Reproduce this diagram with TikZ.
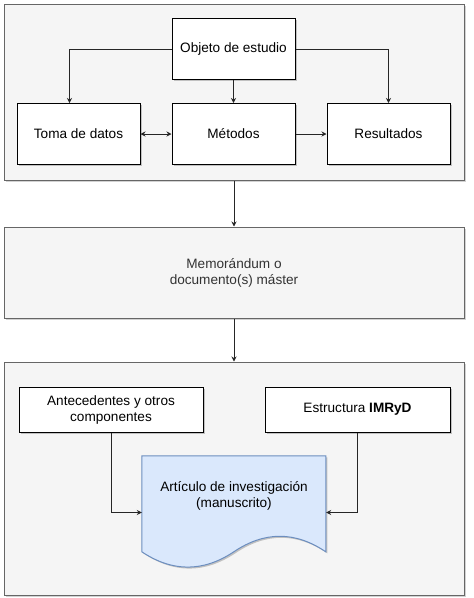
\documentclass[tikz,border=0pt]{standalone}
\usepackage{fontspec}
\setmainfont{Liberation Sans}
\usepackage{tikz}
\usetikzlibrary{positioning,shadows,arrows.meta}
\definecolor{panelgray}{HTML}{F5F5F5}
\definecolor{panelline}{HTML}{666666}
\definecolor{textgray}{HTML}{333333}
\definecolor{docblue}{HTML}{DAE8FC}
\definecolor{docline}{HTML}{6C8EBF}

\begin{document}
\begin{tikzpicture}[
x=1pt, y=1pt,
font=\fontsize{13.6}{16}\selectfont,
panelnode/.style={rectangle, draw=panelline, fill=panelgray, line width=1pt, minimum width=460pt, align=center,
  drop shadow={shadow xshift=1.5pt, shadow yshift=-1.5pt, opacity=0.25, fill=black!70}},
whitenode/.style={rectangle, draw=black, fill=white, line width=1pt, minimum width=123pt, minimum height=61pt, align=center,
  drop shadow={shadow xshift=1.5pt, shadow yshift=-1.5pt, opacity=0.3, fill=black!70}},
docnode/.style={draw=docline, fill=docblue, line width=1pt,
  drop shadow={shadow xshift=1.5pt, shadow yshift=-1.5pt, opacity=0.3, fill=black!70}},
arrow/.style={line width=1pt, draw=black!85, -{Stealth[length=5pt,width=5pt]}},
twoarrow/.style={line width=1pt, draw=black!85, {Stealth[length=5pt,width=5pt]}-{Stealth[length=5pt,width=5pt]}},
]
\useasboundingbox (0,0) rectangle (474,-598);

%Panels
\node[panelnode, minimum height=176pt] (top) at (234,-92) {};
\node[panelnode, minimum height=91pt, text=textgray] (memo) [below=46pt of top] {Memorándum o\\documento(s) máster};
\node[panelnode, minimum height=233pt] (bottom) [below=43pt of memo] {};

%Nodes
\node[whitenode]      (obj)   at (233.5,-49)        {Objeto de estudio};
\node[whitenode]      (met)   [below=23pt of obj]   {Métodos};
\node[whitenode]      (toma)  [left=31pt of met]    {Toma de datos};
\node[whitenode]      (res)   [right=31pt of met]   {Resultados};

\node[whitenode, minimum width=184pt, minimum height=45pt] (ante) at (111,-409.5)         {Antecedentes y otros\\componentes};
\node[whitenode, minimum width=185pt, minimum height=45pt] (estr) [right=61pt of ante]    {Estructura \textbf{IMRyD}};

%Document
\node[minimum width=184pt, minimum height=113pt, inner sep=0pt] (doc) at (234,-512.5) {};
\begin{scope}[shift={(doc.north west)}]
\path[docnode] (0,0) -- (184,0) -- (184,-96)
  .. controls (153.3,-75.3) and (122.7,-75.3) .. (92,-96)
  .. controls (61.3,-116.4) and (30.7,-116.4) .. (0,-96) -- cycle;
\end{scope}
\node[align=center] (doctext) at ([yshift=17pt]doc.center) {Artículo de investigación\\(manuscrito)};

%Lines
\draw[arrow] (obj.west) -| ([xshift=-9pt]toma.north);
\draw[arrow] (obj.east) -| (res.north);
\draw[arrow] (obj) -- (met);
\draw[twoarrow] (toma) -- (met);
\draw[arrow] (met) -- (res);

\draw[arrow] (top) -- (memo);
\draw[arrow] (memo) -- (bottom);

\draw[arrow] (ante.south) |- (doc.west);
\draw[arrow] (estr.south) |- (doc.east);

\end{tikzpicture}
\end{document}
